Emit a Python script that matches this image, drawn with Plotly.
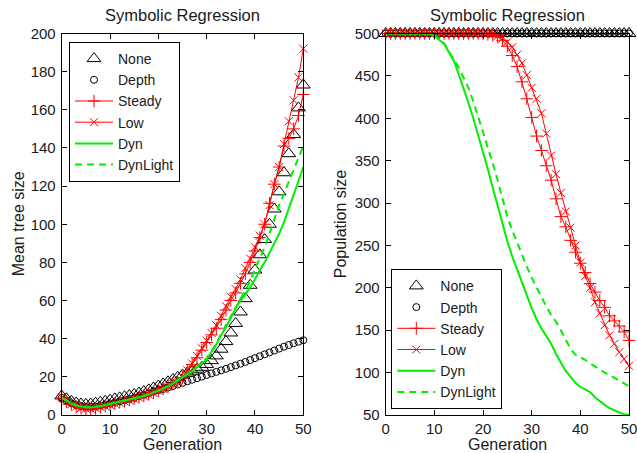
import plotly.graph_objects as go

generations = list(range(51))

# ---- Left panel: mean tree size ----
left_none = [10, 8.5, 7.2, 6.3, 5.8, 5.6, 5.8, 6.2, 6.7, 7.2,
             7.8, 8.4, 9, 9.6, 10.2, 10.8, 11.5, 12.3, 13.2, 14.2,
             15.2, 16.3, 17.4, 18.6, 19.8, 21, 22, 23, 24, 25,
             26.5, 28.5, 31, 34.5, 38.5, 43, 48, 54, 61, 68,
             76, 84, 92, 100, 108, 117, 127, 137, 147, 161, 173]
left_depth = [9, 7.5, 6.2, 5.2, 4.6, 4.3, 4.3, 4.5, 5, 5.5,
              6, 6.6, 7.2, 7.8, 8.4, 9, 9.8, 10.6, 11.4, 12.2,
              13, 13.6, 14.4, 15.2, 16, 16.9, 17.7, 18.5, 19.3, 20.1,
              21, 21.8, 22.6, 23.4, 24.2, 25.1, 26, 26.9, 27.8, 28.8,
              29.8, 30.8, 31.8, 32.8, 33.8, 34.8, 35.8, 36.7, 37.6, 38.4, 39.2]
left_steady = [9, 7, 5.5, 4.3, 3.5, 3.2, 3.2, 3.5, 4, 4.7,
               5.3, 6, 6.6, 7.2, 7.8, 8.5, 9.2, 10, 10.8, 11.7,
               12.7, 13.8, 15, 16.3, 17.8, 19.5, 23, 26.5, 30, 34,
               38, 42, 45.5, 50, 55, 60, 64, 69, 74, 80,
               86, 93, 100, 111, 121, 130, 141, 145, 150, 157, 168]
left_low = [9.2, 7.2, 5.6, 4.4, 3.6, 3.3, 3.3, 3.6, 4.1, 4.6,
            5.2, 5.9, 6.5, 7.1, 7.7, 8.4, 9.1, 9.9, 10.7, 11.6,
            12.6, 13.7, 14.9, 16.2, 17.7, 19.8, 23.5, 27, 31, 35,
            39, 43, 47, 52, 57, 62, 66, 71, 77, 82,
            88, 94, 100, 110, 121, 130, 142, 154, 165, 177, 192]
left_dyn = [9, 7.5, 6, 5, 4.3, 4, 4, 4.2, 4.6, 5.2,
            5.8, 6.3, 6.9, 7.5, 8, 8.6, 9.2, 10, 10.8, 11.7,
            12.7, 13.8, 15, 16.4, 18, 20, 21.5, 22.8, 25, 27,
            29, 33, 37, 42, 46, 51, 56, 60, 63, 67,
            71, 76, 80, 85, 90, 95, 101, 108, 116, 123, 130]
left_dynlight = [9.1, 7.6, 6.1, 5.1, 4.4, 4.1, 4.1, 4.3, 4.7, 5.3,
                 5.9, 6.4, 7, 7.6, 8.1, 8.7, 9.3, 10.1, 10.9, 11.8,
                 12.8, 13.9, 15.1, 16.5, 18.1, 20.1, 21.7, 23.2, 25.3, 27.5,
                 29.8, 33.5, 37.5, 42.5, 47, 52, 56.5, 61, 65.5, 70,
                 76.5, 82, 88, 95, 103, 110, 116, 122, 128, 134, 141]

# ---- Right panel: population size ----
right_none = [500, 500, 500, 500, 500, 500, 500, 500, 500, 500,
              500, 500, 500, 500, 500, 500, 500, 500, 500, 500,
              500, 500, 500, 500, 500, 500, 500, 500, 500, 500,
              500, 500, 500, 500, 500, 500, 500, 500, 500, 500,
              500, 500, 500, 500, 500, 500, 500, 500, 500, 500, 500]
right_depth = [500, 500, 500, 500, 500, 500, 500, 500, 500, 500,
               500, 500, 500, 500, 500, 500, 500, 500, 500, 500,
               500, 500, 500, 500, 500, 500, 500, 500, 500, 500,
               500, 500, 500, 500, 500, 500, 500, 500, 500, 500,
               500, 500, 500, 500, 500, 500, 500, 500, 500, 500, 500]
right_steady = [500, 500, 500, 500, 500, 500, 500, 500, 500, 500,
                500, 500, 500, 500, 500, 500, 500, 500, 500, 500,
                500, 499, 498, 496, 492, 485, 474, 461, 443, 423,
                401, 379, 362, 344, 327, 305, 284, 272, 256, 242,
                229, 218, 205, 195, 185, 177, 167, 161, 155, 148, 138]
right_low = [500, 500, 500, 500, 500, 500, 500, 500, 500, 500,
             500, 500, 500, 500, 500, 500, 500, 500, 500, 500,
             500, 500, 499, 497, 494, 490, 484, 475, 465, 451,
             436, 423, 406, 382, 356, 334, 312, 290, 271, 250,
             230, 214, 200, 183, 170, 156, 144, 134, 124, 116, 108]
right_dyn = [500, 500, 500, 500, 500, 500, 500, 500, 500, 500,
             497, 493, 488, 478, 468, 452, 436, 418, 400, 380,
             362, 340, 318, 296, 274, 255, 237, 222, 206, 190,
             176, 163, 152, 143, 134, 122, 112, 102, 95, 88,
             83, 80, 77, 71, 66, 62, 58, 55, 53, 51, 50]
right_dynlight = [500, 500, 500, 500, 500, 500, 500, 500, 500, 500,
                  498, 494, 488, 479, 470, 460, 448, 436, 420, 402,
                  384, 366, 347, 327, 305, 284, 268, 253, 238, 225,
                  212, 200, 189, 178, 168, 160, 150, 139, 128, 121,
                  118, 115, 111, 107, 104, 100, 97, 94, 91, 87, 84]

series_names = ["None", "Depth", "Steady", "Low", "Dyn", "DynLight"]
title_text = "Symbolic Regression"
x_label = "Generation"
left_ylabel = "Mean tree size"
right_ylabel = "Population size"

RED = "#ff0000"
GREEN = "#00ee00"
FONT = "Liberation Sans, Arial, sans-serif"
TXT = "#1a1a1a"

W, H = 637, 453
L_x0, L_x1 = 61.7, 303.3
R_x0, R_x1 = 385.7, 629.0
P_top, P_bot = 33.5, 415.0


def styles():
    return [
        dict(mode="markers", marker=dict(symbol="triangle-up-open", size=12, color="black",
                                         line=dict(width=1, color="black"))),
        dict(mode="markers", marker=dict(symbol="circle-open", size=7, color="black",
                                         line=dict(width=1, color="black"))),
        dict(mode="lines+markers", line=dict(color=RED, width=1),
             marker=dict(symbol="cross-thin", size=9, color=RED, line=dict(width=1, color=RED))),
        dict(mode="lines+markers", line=dict(color=RED, width=1),
             marker=dict(symbol="x-thin", size=8, color=RED, line=dict(width=1, color=RED))),
        dict(mode="lines", line=dict(color=GREEN, width=2)),
        dict(mode="lines", line=dict(color=GREEN, width=2, dash="7px,5px")),
    ]


fig = go.Figure()
left_data = [left_none, left_depth, left_steady, left_low, left_dyn, left_dynlight]
right_data = [right_none, right_depth, right_steady, right_low, right_dyn, right_dynlight]

for name, ys, st in zip(series_names, left_data, styles()):
    fig.add_trace(go.Scatter(x=generations, y=ys, name=name, xaxis="x", yaxis="y",
                             legend="legend", cliponaxis=False, **st))
for name, ys, st in zip(series_names, right_data, styles()):
    fig.add_trace(go.Scatter(x=generations, y=ys, name=name, xaxis="x2", yaxis="y2",
                             legend="legend2", cliponaxis=False, **st))

axis_common = dict(showline=True, linecolor="black", linewidth=1, mirror="ticks",
                   ticks="inside", ticklen=5, tickcolor="black", tickwidth=1,
                   showgrid=False, zeroline=False, automargin=False,
                   ticklabeloverflow="allow",
                   tickfont=dict(family=FONT, size=15, color=TXT))

legend_common = dict(xanchor="left", bgcolor="white", bordercolor="black", borderwidth=1,
                     font=dict(family=FONT, size=14, color=TXT), tracegroupgap=0,
                     itemwidth=38)

fig.update_layout(
    width=W, height=H, autosize=False,
    margin=dict(l=0, r=0, t=0, b=0, autoexpand=False),
    paper_bgcolor="white", plot_bgcolor="white",
    font=dict(family=FONT, size=16, color=TXT),
    xaxis=dict(domain=[L_x0 / W, L_x1 / W], range=[0, 50], tickvals=[0, 10, 20, 30, 40, 50],
               anchor="y", **axis_common),
    yaxis=dict(domain=[1 - P_bot / H, 1 - P_top / H], range=[0, 200],
               tickvals=list(range(0, 201, 20)), anchor="x", ticklabelstandoff=2, **axis_common),
    xaxis2=dict(domain=[R_x0 / W, R_x1 / W], range=[0, 50], tickvals=[0, 10, 20, 30, 40, 50],
                anchor="y2", **axis_common),
    yaxis2=dict(domain=[1 - P_bot / H, 1 - P_top / H], range=[50, 500],
                tickvals=list(range(50, 501, 50)), anchor="x2", ticklabelstandoff=2, **axis_common),
    legend=dict(x=69 / W, y=1 - 42 / H, yanchor="top", **legend_common),
    legend2=dict(x=391.3 / W, y=1 - 409.3 / H, yanchor="bottom", **legend_common),
    showlegend=True,
)

ann = []
for cx, ylab, lx in [((L_x0 + L_x1) / 2, left_ylabel, 18), ((R_x0 + R_x1) / 2, right_ylabel, 340)]:
    ann.append(dict(text=title_text, x=cx / W, y=1 - 15.5 / H, xref="paper", yref="paper",
                    showarrow=False, xanchor="center", yanchor="middle",
                    font=dict(family=FONT, size=16.5, color=TXT)))
    ann.append(dict(text=x_label, x=cx / W, y=1 - 444 / H, xref="paper", yref="paper",
                    showarrow=False, xanchor="center", yanchor="middle",
                    font=dict(family=FONT, size=16, color=TXT)))
    ann.append(dict(text=ylab, x=lx / W, y=1 - ((P_top + P_bot) / 2) / H, xref="paper", yref="paper",
                    showarrow=False, xanchor="center", yanchor="middle", textangle=-90,
                    font=dict(family=FONT, size=16, color=TXT)))
fig.update_layout(annotations=ann)

fig.write_html("out.html", config={"displayModeBar": False},
               post_script="document.body.style.margin='0';document.body.style.padding='0';")
